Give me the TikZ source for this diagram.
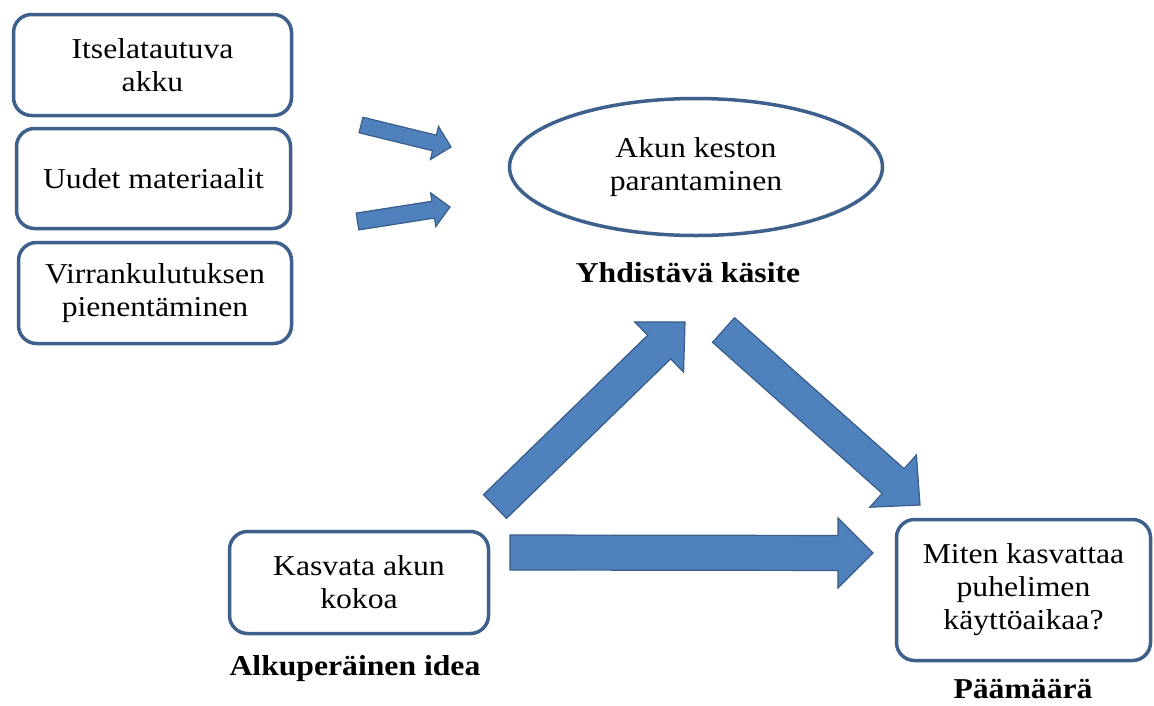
\documentclass[tikz,border=0pt]{standalone}
\usepackage{fontspec}
\setmainfont{Liberation Serif}[FakeStretch=1.1]
\usetikzlibrary{calc,shapes.geometric}

\definecolor{boxline}{RGB}{62,96,140}
\definecolor{arrowfill}{RGB}{79,129,189}
\definecolor{arrowline}{RGB}{56,93,138}

\tikzset{
  roundbox/.style={draw=boxline, line width=3.5pt, rounded corners=18pt,
    fill=white, align=center, inner sep=0pt},
  ovalbox/.style={ellipse, draw=boxline, line width=3.5pt, fill=white,
    align=center, inner sep=0pt},
  caption/.style={font=\fontsize{28.8}{33}\selectfont\bfseries, anchor=base},
  blockarrow/.style={fill=arrowfill, draw=arrowline, line width=1.2pt,
    line join=miter}
}

% block arrow between two named coordinates:
% #1 tail, #2 tip, #3 half shaft width, #4 head length, #5 half head width
\newcommand\blockarrow[5]{%
  \draw[blockarrow]
    ($(#1)!#3!90:(#2)$) --
    ($(#2)!#4!(#1)!#3!90:(#2)$) --
    ($(#2)!#4!(#1)!#5!90:(#2)$) --
    (#2) --
    ($(#2)!#4!(#1)!#5!-90:(#2)$) --
    ($(#2)!#4!(#1)!#3!-90:(#2)$) --
    ($(#1)!#3!-90:(#2)$) -- cycle;}

\begin{document}
\begin{tikzpicture}[x=1pt, y=-1pt, font=\fontsize{28.8}{33}\selectfont]
\useasboundingbox (0,0) rectangle (1154,705);

% left column of ideas
\node[roundbox, minimum width=278pt, minimum height=101pt] (self) at (152.5,65)
  {Itselatautuva\\akku};
\node[roundbox, minimum width=274pt, minimum height=100pt] (mat) at (153.5,178.5)
  {Uudet materiaalit};
\node[roundbox, minimum width=273pt, minimum height=101pt] (power) at (155,293)
  {Virrankulutuksen\\pienentäminen};

% unifying concept
\node[ovalbox, minimum width=373pt, minimum height=137pt] (concept) at (696,167)
  {Akun keston\\parantaminen};
\node[caption] (conceptlbl) at (688,282) {Yhdistävä käsite};

% original idea
\node[roundbox, minimum width=259pt, minimum height=102pt] (idea) at (359,582.5)
  {Kasvata akun\\kokoa};
\node[caption] (idealbl) at (355,675) {Alkuperäinen idea};

% goal
\node[roundbox, minimum width=254pt, minimum height=141pt] (goal) at (1023.5,590)
  {Miten kasvattaa\\puhelimen\\käyttöaikaa?};
\node[caption] (goallbl) at (1023,698) {Päämäärä};

% arrow end points
\coordinate (a1s) at (361,125);   \coordinate (a1e) at (451,147);
\coordinate (a2s) at (357.5,221.5); \coordinate (a2e) at (450,207);
\coordinate (a3s) at (495,506.5); \coordinate (a3e) at (685,322);
\coordinate (a4s) at (723.5,330); \coordinate (a4e) at (920,505);
\coordinate (a5s) at (510,552.5); \coordinate (a5e) at (873,553);

\blockarrow{a1s}{a1e}{8pt}{17pt}{17pt}
\blockarrow{a2s}{a2e}{8.5pt}{17pt}{17pt}
\blockarrow{a3s}{a3e}{16.5pt}{36pt}{35pt}
\blockarrow{a4s}{a4e}{16.5pt}{36pt}{35pt}
\blockarrow{a5s}{a5e}{17.5pt}{35pt}{35pt}
\end{tikzpicture}
\end{document}
